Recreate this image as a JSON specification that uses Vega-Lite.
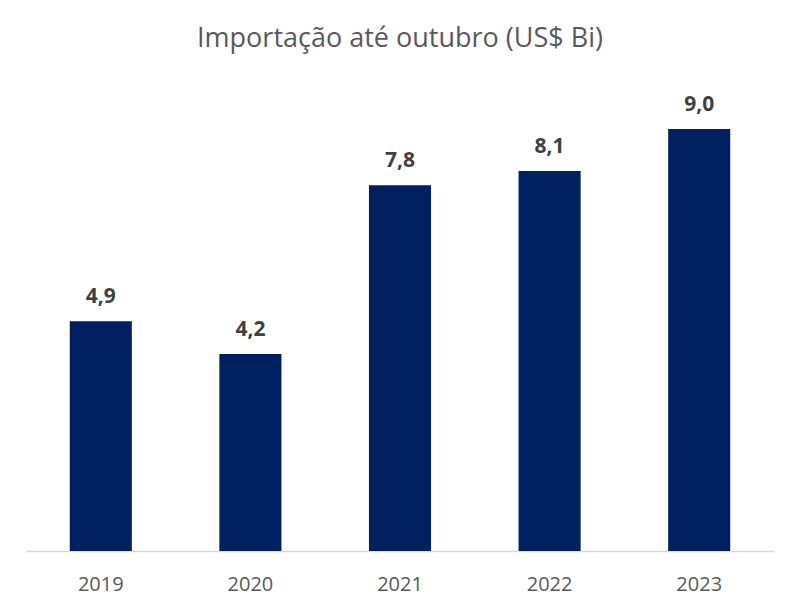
{
  "$schema": "https://vega.github.io/schema/vega-lite/v6.json",
  "width": 748,
  "height": 469,
  "autosize": {"type": "none"},
  "padding": {"left": 26, "top": 82, "right": 26, "bottom": 61},
  "background": "white",
  "title": {
    "text": "Importação até outubro (US$ Bi)",
    "font": "Open Sans",
    "fontSize": 27,
    "fontWeight": "normal",
    "color": "#595959",
    "anchor": "middle",
    "offset": 29
  },
  "data": {
    "values": [
      {"ano": "2019", "valor": 4.9, "rotulo": "4,9"},
      {"ano": "2020", "valor": 4.2, "rotulo": "4,2"},
      {"ano": "2021", "valor": 7.8, "rotulo": "7,8"},
      {"ano": "2022", "valor": 8.1, "rotulo": "8,1"},
      {"ano": "2023", "valor": 9.0, "rotulo": "9,0"}
    ]
  },
  "encoding": {
    "x": {
      "field": "ano",
      "type": "nominal",
      "scale": {"paddingInner": 0.585, "paddingOuter": 0.2925},
      "axis": {
        "title": null,
        "labelAngle": 0,
        "labelFont": "Open Sans",
        "labelFontSize": 20,
        "labelColor": "#595959",
        "labelPadding": 23,
        "ticks": false,
        "domainColor": "#d9d9d9",
        "domainWidth": 1.5
      }
    },
    "y": {
      "field": "valor",
      "type": "quantitative",
      "scale": {"domain": [0, 10], "nice": false},
      "axis": null
    }
  },
  "layer": [
    {"mark": {"type": "bar", "color": "#002060"}},
    {
      "mark": {
        "type": "text",
        "baseline": "bottom",
        "dy": -14,
        "font": "Open Sans",
        "fontSize": 21,
        "fontWeight": "bold",
        "color": "#404040"
      },
      "encoding": {"text": {"field": "rotulo"}}
    }
  ],
  "config": {"view": {"stroke": null}}
}
